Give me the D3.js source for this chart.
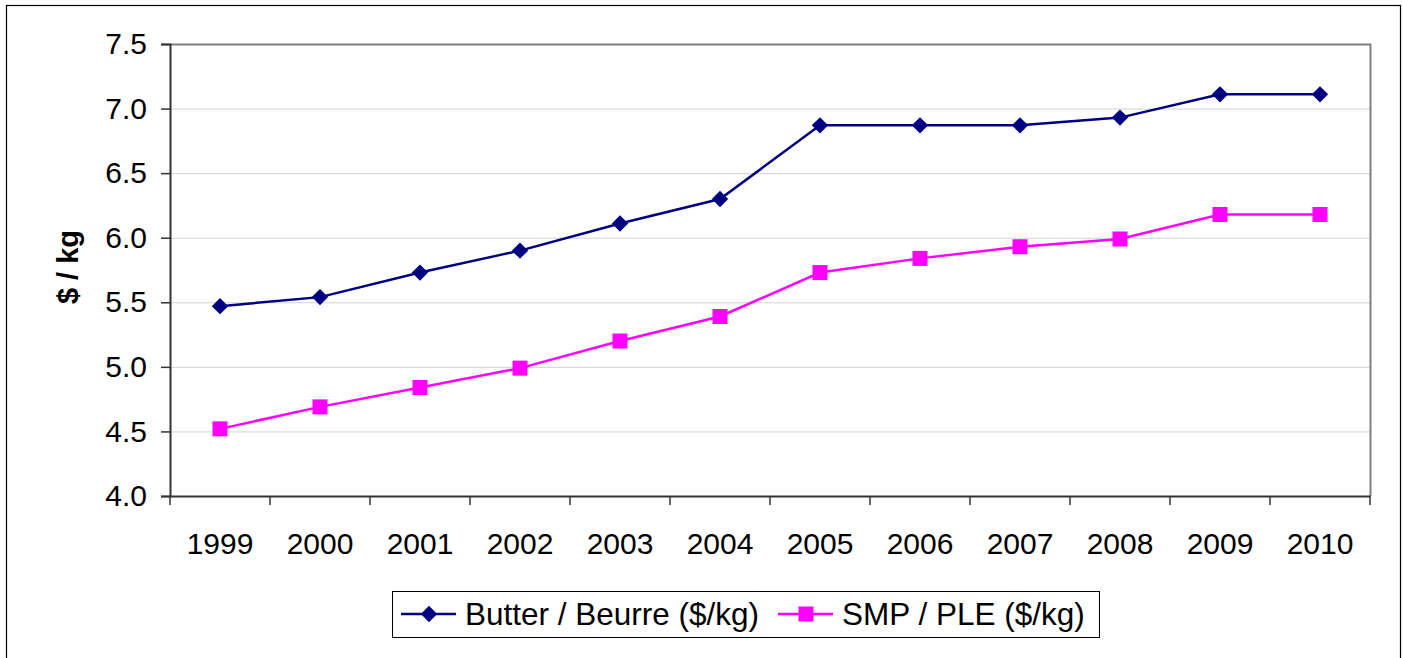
<!DOCTYPE html>
<html>
<head>
<meta charset="utf-8">
<script src="https://cdn.jsdelivr.net/npm/d3@7"></script>
<style>
  body { margin: 0; background: #fff; }
  text { font-family: Arial, "Liberation Sans", sans-serif; }
</style>
</head>
<body>
<div id="chart"></div>
<script>
// Chart data
const years = ["1999", "2000", "2001", "2002", "2003", "2004", "2005", "2006", "2007", "2008", "2009", "2010"];
const butter = [5.47, 5.54, 5.73, 5.90, 6.11, 6.30, 6.87, 6.87, 6.87, 6.93, 7.11, 7.11];
const smp = [4.52, 4.69, 4.84, 4.99, 5.20, 5.39, 5.73, 5.84, 5.93, 5.99, 6.18, 6.18];
const yTicks = [4.0, 4.5, 5.0, 5.5, 6.0, 6.5, 7.0, 7.5];
const seriesNames = ["Butter / Beurre ($/kg)", "SMP / PLE ($/kg)"];

const width = 1403;
const height = 658;
const plot = { left: 170, right: 1370, top: 44, bottom: 496 };

const svg = d3.select("#chart").append("svg")
    .attr("width", width)
    .attr("height", height);

// outer frame
svg.append("rect")
    .attr("x", 6.5).attr("y", 5.5)
    .attr("width", 1394).attr("height", 700)
    .attr("fill", "none")
    .attr("stroke", "#000")
    .attr("stroke-width", 1.2);

const x = d3.scaleBand().domain(years).range([plot.left, plot.right]);
const y = d3.scaleLinear().domain([4.0, 7.5]).range([plot.bottom, plot.top]);

// gridlines
svg.append("g")
    .selectAll("line")
    .data(yTicks.filter(t => t > 4.0 && t < 7.5))
    .enter().append("line")
    .attr("x1", plot.left).attr("x2", plot.right)
    .attr("y1", d => y(d) + 0.5).attr("y2", d => y(d) + 0.5)
    .attr("stroke", "#d4d4d4")
    .attr("stroke-width", 1);

// plot border (top / right)
svg.append("path")
    .attr("d", `M${plot.left},${plot.top + 0.5}H${plot.right + 0.5}V${plot.bottom}`)
    .attr("fill", "none")
    .attr("stroke", "#808080")
    .attr("stroke-width", 2);

// y axis
const yAxis = svg.append("g")
    .attr("transform", `translate(${plot.left},0)`)
    .call(d3.axisLeft(y).tickValues(yTicks).tickFormat(d3.format(".1f")).tickSize(9).tickPadding(14));
yAxis.select(".domain").attr("stroke", "#333").attr("stroke-width", 2);
yAxis.selectAll(".tick line").attr("stroke", "#333").attr("stroke-width", 1.5);
yAxis.selectAll("text")
    .style("font-size", "30px")
    .attr("fill", "#000");

// x axis: ticks between categories
const xAxis = svg.append("g")
    .attr("transform", `translate(0,${plot.bottom})`)
    .call(d3.axisBottom(x).tickSize(0).tickPadding(37));
xAxis.select(".domain").attr("stroke", "#333").attr("stroke-width", 2);
xAxis.selectAll("text")
    .style("font-size", "30px")
    .attr("fill", "#000");
xAxis.selectAll(".boundary")
    .data(years.map(d => x(d)).concat([plot.right]))
    .enter().append("line")
    .attr("x1", d => d).attr("x2", d => d)
    .attr("y1", 0).attr("y2", 9)
    .attr("stroke", "#333")
    .attr("stroke-width", 1.5);

// y axis title
svg.append("text")
    .attr("transform", "translate(78,267) rotate(-90)")
    .attr("text-anchor", "middle")
    .style("font-size", "29px")
    .style("font-weight", "bold")
    .text("$ / kg");

const line = d3.line()
    .x((d, i) => x(years[i]) + x.bandwidth() / 2)
    .y(d => y(d));

const diamond = d3.symbol().type(d3.symbolDiamond2).size(170);

// butter series
svg.append("path")
    .datum(butter)
    .attr("d", line)
    .attr("fill", "none")
    .attr("stroke", "#000080")
    .attr("stroke-width", 2.5);
svg.selectAll(".butter")
    .data(butter)
    .enter().append("path")
    .attr("class", "butter")
    .attr("transform", (d, i) => `translate(${x(years[i]) + x.bandwidth() / 2},${y(d)})`)
    .attr("d", diamond)
    .attr("fill", "#000080");

// smp series
svg.append("path")
    .datum(smp)
    .attr("d", line)
    .attr("fill", "none")
    .attr("stroke", "#ff00ff")
    .attr("stroke-width", 2.5);
svg.selectAll(".smp")
    .data(smp)
    .enter().append("rect")
    .attr("class", "smp")
    .attr("x", (d, i) => x(years[i]) + x.bandwidth() / 2 - 7.5)
    .attr("y", d => y(d) - 7.5)
    .attr("width", 15).attr("height", 15)
    .attr("fill", "#ff00ff");

// legend
const legend = svg.append("g");
legend.append("rect")
    .attr("x", 392.5).attr("y", 591.5)
    .attr("width", 707).attr("height", 46)
    .attr("fill", "#fff")
    .attr("stroke", "#000")
    .attr("stroke-width", 1);

const legendItems = [
    { name: seriesNames[0], color: "#000080", x0: 401, marker: "diamond" },
    { name: seriesNames[1], color: "#ff00ff", x0: 778, marker: "square" }
];

legendItems.forEach(item => {
    const cy = 614;
    legend.append("line")
        .attr("x1", item.x0).attr("x2", item.x0 + 55)
        .attr("y1", cy).attr("y2", cy)
        .attr("stroke", item.color)
        .attr("stroke-width", 2.5);
    if (item.marker === "diamond") {
        legend.append("path")
            .attr("transform", `translate(${item.x0 + 28},${cy})`)
            .attr("d", diamond)
            .attr("fill", item.color);
    } else {
        legend.append("rect")
            .attr("x", item.x0 + 28 - 7.5).attr("y", cy - 7.5)
            .attr("width", 15).attr("height", 15)
            .attr("fill", item.color);
    }
    legend.append("text")
        .attr("x", item.x0 + 64).attr("y", 625)
        .style("font-size", "31.5px")
        .text(item.name);
});
</script>
</body>
</html>
